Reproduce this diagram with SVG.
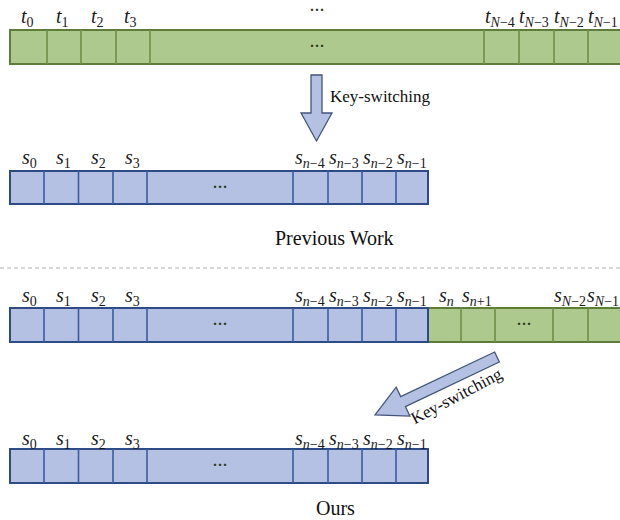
<svg xmlns="http://www.w3.org/2000/svg" width="620" height="520" viewBox="0 0 620 520">
  <style>
    .g { fill: #aec98e; stroke: #5e7d3b; stroke-width: 2; }
    .gd { stroke: #6f8f48; stroke-width: 1.6; }
    .b { fill: #b4c1e2; stroke: #2f4b86; stroke-width: 2; }
    .bd { stroke: #3b5ba3; stroke-width: 1.6; }
    .lbl { font-family: "Liberation Serif", serif; font-size: 20px; font-style: italic; fill: #1a1a1a; }
    .sub { font-size: 14px; font-style: normal; }
    .si { font-style: italic; }
    .dots { font-family: "Liberation Serif", serif; font-size: 15px; font-weight: bold; fill: #2a3a1a; text-anchor: middle; }
    .cap { font-family: "Liberation Serif", serif; font-size: 20px; fill: #111; }
    .arrow { fill: #b4c1e2; stroke: #44557c; stroke-width: 1.3; stroke-linejoin: miter; }
  </style>

  <!-- top row: t_0 ... t_{N-1} -->
  <g id="row-t">
    <rect class="g" x="10" y="30" width="614" height="34"/>
    <path class="gd" d="M47 30V64M81 30V64M116 30V64M150 30V64M484 30V64M519 30V64M554 30V64M588 30V64"/>
    <text class="dots" x="317" y="51">···</text>
    <text class="dots" x="317" y="15">···</text>
    <text class="lbl" y="23">
      <tspan x="21">t</tspan><tspan class="sub" dy="4">0</tspan>
      <tspan x="56" dy="-4">t</tspan><tspan class="sub" dy="4">1</tspan>
      <tspan x="91" dy="-4">t</tspan><tspan class="sub" dy="4">2</tspan>
      <tspan x="124" dy="-4">t</tspan><tspan class="sub" dy="4">3</tspan>
      <tspan x="485" dy="-4">t</tspan><tspan class="sub" dy="4"><tspan class="si">N</tspan>−4</tspan>
      <tspan x="519" dy="-4">t</tspan><tspan class="sub" dy="4"><tspan class="si">N</tspan>−3</tspan>
      <tspan x="554" dy="-4">t</tspan><tspan class="sub" dy="4"><tspan class="si">N</tspan>−2</tspan>
      <tspan x="588" dy="-4">t</tspan><tspan class="sub" dy="4"><tspan class="si">N</tspan>−1</tspan>
    </text>
  </g>

  <!-- previous work result: s_0 ... s_{n-1} -->
  <g id="row-s-prev">
    <rect class="b" x="10" y="171" width="418" height="33"/>
    <path class="bd" d="M44 171V204M78.5 171V204M113 171V204M147 171V204M293 171V204M328 171V204M362 171V204M396 171V204"/>
    <text class="dots" x="220" y="192">···</text>
    <text class="lbl" y="164">
      <tspan x="22">s</tspan><tspan class="sub" dy="4">0</tspan>
      <tspan x="56" dy="-4">s</tspan><tspan class="sub" dy="4">1</tspan>
      <tspan x="91" dy="-4">s</tspan><tspan class="sub" dy="4">2</tspan>
      <tspan x="125" dy="-4">s</tspan><tspan class="sub" dy="4">3</tspan>
      <tspan x="295" dy="-4">s</tspan><tspan class="sub" dy="4"><tspan class="si">n</tspan>−4</tspan>
      <tspan x="329" dy="-4">s</tspan><tspan class="sub" dy="4"><tspan class="si">n</tspan>−3</tspan>
      <tspan x="363" dy="-4">s</tspan><tspan class="sub" dy="4"><tspan class="si">n</tspan>−2</tspan>
      <tspan x="397" dy="-4">s</tspan><tspan class="sub" dy="4"><tspan class="si">n</tspan>−1</tspan>
    </text>
  </g>

  <text id="label-prev" class="cap" x="275" y="245">Previous Work</text>

  <!-- separator -->
  <line x1="0" y1="268" x2="620" y2="268" stroke="#b0b0b0" stroke-width="1.2" stroke-dasharray="4 3"/>

  <!-- ours input: s_0 ... s_{N-1} -->
  <g id="row-s-ours">
    <rect class="g" x="428" y="308" width="196" height="34"/>
    <path class="gd" d="M461 308V342M495 308V342M553 308V342M588 308V342"/>
    <rect class="b" x="10" y="308" width="418" height="34"/>
    <path class="bd" d="M44 308V342M78.5 308V342M113 308V342M147 308V342M293 308V342M328 308V342M362 308V342M396 308V342"/>
    <text class="dots" x="220" y="329">···</text>
    <text class="dots" x="524" y="329">···</text>
    <text class="lbl" y="302">
      <tspan x="22">s</tspan><tspan class="sub" dy="4">0</tspan>
      <tspan x="56" dy="-4">s</tspan><tspan class="sub" dy="4">1</tspan>
      <tspan x="91" dy="-4">s</tspan><tspan class="sub" dy="4">2</tspan>
      <tspan x="125" dy="-4">s</tspan><tspan class="sub" dy="4">3</tspan>
      <tspan x="295" dy="-4">s</tspan><tspan class="sub" dy="4"><tspan class="si">n</tspan>−4</tspan>
      <tspan x="329" dy="-4">s</tspan><tspan class="sub" dy="4"><tspan class="si">n</tspan>−3</tspan>
      <tspan x="363" dy="-4">s</tspan><tspan class="sub" dy="4"><tspan class="si">n</tspan>−2</tspan>
      <tspan x="397" dy="-4">s</tspan><tspan class="sub" dy="4"><tspan class="si">n</tspan>−1</tspan>
      <tspan x="439" dy="-4">s</tspan><tspan class="sub si" dy="4">n</tspan>
      <tspan x="462" dy="-4">s</tspan><tspan class="sub" dy="4"><tspan class="si">n</tspan>+1</tspan>
      <tspan x="554" dy="-4">s</tspan><tspan class="sub" dy="4"><tspan class="si">N</tspan>−2</tspan>
      <tspan x="587" dy="-4">s</tspan><tspan class="sub" dy="4"><tspan class="si">N</tspan>−1</tspan>
    </text>
  </g>

  <!-- ours result: s_0 ... s_{n-1} -->
  <g id="row-s-result">
    <rect class="b" x="10" y="449" width="418" height="34"/>
    <path class="bd" d="M44 449V483M78.5 449V483M113 449V483M147 449V483M293 449V483M328 449V483M362 449V483M396 449V483"/>
    <text class="dots" x="220" y="470">···</text>
    <text class="lbl" y="445">
      <tspan x="22">s</tspan><tspan class="sub" dy="4">0</tspan>
      <tspan x="56" dy="-4">s</tspan><tspan class="sub" dy="4">1</tspan>
      <tspan x="91" dy="-4">s</tspan><tspan class="sub" dy="4">2</tspan>
      <tspan x="125" dy="-4">s</tspan><tspan class="sub" dy="4">3</tspan>
      <tspan x="295" dy="-4">s</tspan><tspan class="sub" dy="4"><tspan class="si">n</tspan>−4</tspan>
      <tspan x="329" dy="-4">s</tspan><tspan class="sub" dy="4"><tspan class="si">n</tspan>−3</tspan>
      <tspan x="363" dy="-4">s</tspan><tspan class="sub" dy="4"><tspan class="si">n</tspan>−2</tspan>
      <tspan x="397" dy="-4">s</tspan><tspan class="sub" dy="4"><tspan class="si">n</tspan>−1</tspan>
    </text>
  </g>

  <text id="label-ours" class="cap" x="316" y="515">Ours</text>

  <!-- key-switching arrows -->
  <g id="connectors">
    <polygon class="arrow" points="311,75 322,75 322,113 332,113 316.5,141 301,113 311,113"/>
    <text class="cap" x="330" y="102" style="font-size:17px">Key-switching</text>
    <polygon class="arrow" transform="translate(497,357) rotate(154.6)" points="0,-5.5 104,-5.5 104,-16 135,0 104,16 104,5.5 0,5.5"/>
    <text class="cap" x="459" y="401" text-anchor="middle" style="font-size:17px" transform="rotate(-28 459 401)">Key-switching</text>
  </g>
</svg>
